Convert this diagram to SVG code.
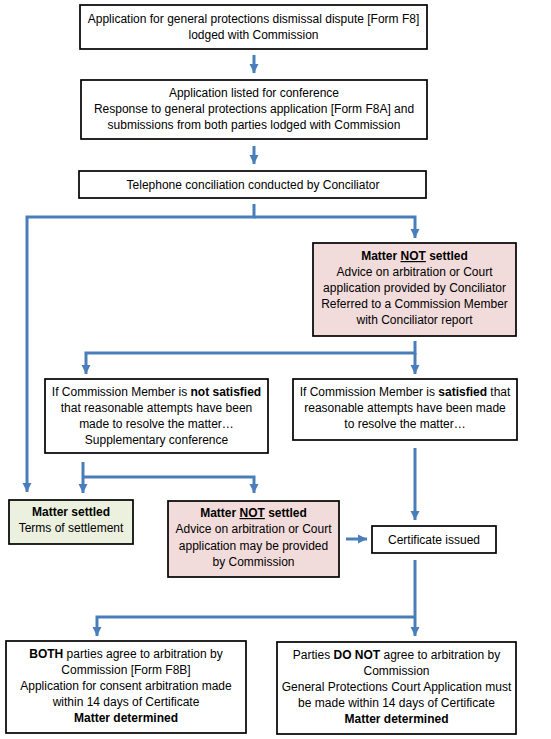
<svg xmlns="http://www.w3.org/2000/svg" width="551" height="739" viewBox="0 0 551 739">
<defs>
<marker id="ah" markerUnits="userSpaceOnUse" markerWidth="10" markerHeight="10" refX="9" refY="5" orient="auto" viewBox="0 0 10 10">
<path d="M0,0.5 L9,5 L0,9.5 z" fill="#4a7ebb"/>
</marker>
</defs>
<style>
.box{fill:#ffffff;stroke:#000;stroke-width:1.7}
.pink{fill:#f2dcdb}
.green{fill:#ebf1de}
text{font-family:"Liberation Sans",Arial,sans-serif;font-size:12px;fill:#000;text-anchor:middle}
.b{font-weight:bold}
.u{text-decoration:underline}
.c{fill:none;stroke:#4a7ebb;stroke-width:3}
</style>
<rect width="551" height="739" fill="#fff"/>
<g id="connectors">
<path class="c" d="M254,55 V73" marker-end="url(#ah)"/>
<path class="c" d="M254,146 V164" marker-end="url(#ah)"/>
<path class="c" d="M254,204 V217 H27 V492" marker-end="url(#ah)"/>
<path class="c" d="M254,217 H415 V238" marker-end="url(#ah)"/>
<path class="c" d="M415,341 V353 H86 V374" marker-end="url(#ah)"/>
<path class="c" d="M415,353 V374" marker-end="url(#ah)"/>
<path class="c" d="M83,462 V493" marker-end="url(#ah)"/>
<path class="c" d="M83,477 H254 V493" marker-end="url(#ah)"/>
<path class="c" d="M415,448 V520" marker-end="url(#ah)"/>
<path class="c" d="M346,539 H367" marker-end="url(#ah)"/>
<path class="c" d="M415,560 V636" marker-end="url(#ah)"/>
<path class="c" d="M415,617 H97 V636" marker-end="url(#ah)"/>
</g>
<g id="n1">
<rect class="box" x="80" y="5" width="347" height="44"/>
<text x="253.5" y="23">Application for general protections dismissal dispute [Form F8]</text>
<text x="253.5" y="39">lodged with Commission</text>
</g>
<g id="n2">
<rect class="box" x="81" y="80" width="346" height="59"/>
<text x="254" y="97">Application listed for conference</text>
<text x="254" y="113">Response to general protections application [Form F8A] and</text>
<text x="254" y="129">submissions from both parties lodged with Commission</text>
</g>
<g id="n3">
<rect class="box" x="79" y="171" width="347" height="27"/>
<text x="253" y="189">Telephone conciliation conducted by Conciliator</text>
</g>
<g id="n4">
<rect class="box pink" x="313" y="243" width="203" height="93"/>
<text x="414.5" y="260"><tspan class="b">Matter <tspan class="u">NOT</tspan> settled</tspan></text>
<text x="414.5" y="276">Advice on arbitration or Court</text>
<text x="414.5" y="292">application provided by Conciliator</text>
<text x="414.5" y="308">Referred to a Commission Member</text>
<text x="414.5" y="324">with Conciliator report</text>
</g>
<g id="n5">
<rect class="box" x="45" y="379" width="223" height="74"/>
<text x="156.5" y="396">If Commission Member is <tspan class="b">not satisfied</tspan></text>
<text x="156.5" y="412">that reasonable attempts have been</text>
<text x="156.5" y="428">made to resolve the matter…</text>
<text x="156.5" y="444">Supplementary conference</text>
</g>
<g id="n6">
<rect class="box" x="293" y="379" width="224" height="61"/>
<text x="405" y="396">If Commission Member is <tspan class="b">satisfied</tspan> that</text>
<text x="405" y="412">reasonable attempts have been made</text>
<text x="405" y="428">to resolve the matter…</text>
</g>
<g id="n7">
<rect class="box green" x="9" y="500" width="124" height="44"/>
<text x="71" y="516" class="b">Matter settled</text>
<text x="71" y="532">Terms of settlement</text>
</g>
<g id="n8">
<rect class="box pink" x="168" y="501" width="171" height="76"/>
<text x="253.5" y="517"><tspan class="b">Matter <tspan class="u">NOT</tspan> settled</tspan></text>
<text x="253.5" y="533">Advice on arbitration or Court</text>
<text x="253.5" y="550">application may be provided</text>
<text x="253.5" y="566">by Commission</text>
</g>
<g id="n9">
<rect class="box" x="372" y="526" width="124" height="27"/>
<text x="434" y="544">Certificate issued</text>
</g>
<g id="n10">
<rect class="box" x="6" y="641" width="240" height="92"/>
<text x="126" y="658"><tspan class="b">BOTH</tspan> parties agree to arbitration by</text>
<text x="126" y="674">Commission [Form F8B]</text>
<text x="126" y="690">Application for consent arbitration made</text>
<text x="126" y="706">within 14 days of Certificate</text>
<text x="126" y="722" class="b">Matter determined</text>
</g>
<g id="n11">
<rect class="box" x="277" y="642" width="239" height="92"/>
<text x="396.5" y="659">Parties <tspan class="b">DO NOT</tspan> agree to arbitration by</text>
<text x="396.5" y="675">Commission</text>
<text x="396.5" y="691">General Protections Court Application must</text>
<text x="396.5" y="707">be made within 14 days of Certificate</text>
<text x="396.5" y="723" class="b">Matter determined</text>
</g>
</svg>
